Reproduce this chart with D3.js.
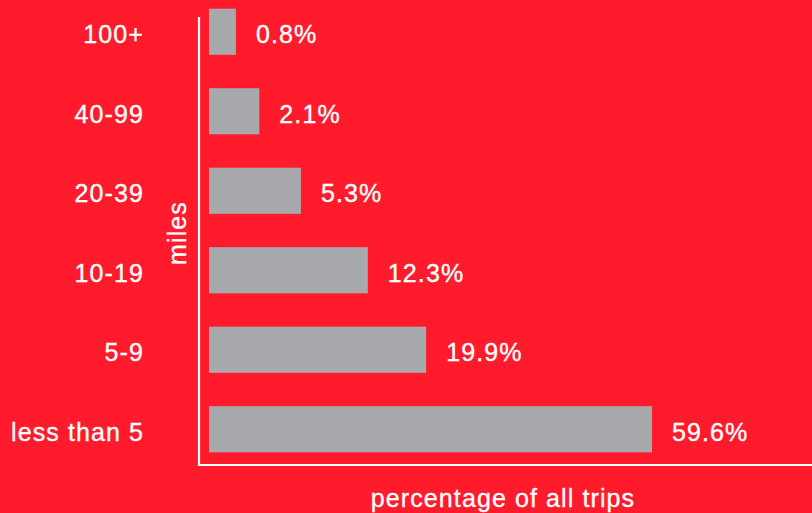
<!DOCTYPE html>
<html>
<head>
<meta charset="utf-8">
<script src="https://cdn.jsdelivr.net/npm/d3@7"></script>
<style>
  html, body { margin: 0; padding: 0; background: #FF1A2C; overflow: hidden; }
  svg text {
    font-family: "Liberation Sans", Arial, Helvetica, sans-serif;
    fill: #fff;
    stroke: #fff;
    stroke-width: 0.35px;
    letter-spacing: 1.1px;
  }
</style>
</head>
<body>
<div id="chart"></div>
<script>
const categories = ["100+", "40-99", "20-39", "10-19", "5-9", "less than 5"];
const shares = [0.8, 2.1, 5.3, 12.3, 19.9, 59.6];
const valueLabels = ["0.8%", "2.1%", "5.3%", "12.3%", "19.9%", "59.6%"];
const yTitle = "miles";
const xTitle = "percentage of all trips";

const width = 812,
  height = 513,
  barLeft = 209,
  fontSize = 25,
  svg = d3
    .select("#chart")
    .append("svg")
    .attr("width", width)
    .attr("height", height);

// bars in the original are not to scale, a compressed pow scale comes close
const xScale = d3.scalePow().exponent(0.65).domain([0, 59.6]).range([0, 443]);
const yScale = d3
  .scaleBand()
  .domain(categories)
  .range([-8, 469])
  .paddingInner(0.42)
  .paddingOuter(0.21);

svg
  .append("g")
  .selectAll("rect")
  .data(shares)
  .join("rect")
  .attr("x", barLeft)
  .attr("y", (d, i) => yScale(categories[i]))
  .attr("width", (d) => xScale(d))
  .attr("height", yScale.bandwidth())
  .attr("fill", "#A7A9AC");

// axis lines
svg
  .append("path")
  .attr("d", "M199,17V465H812")
  .attr("fill", "none")
  .attr("stroke", "#fff")
  .attr("stroke-width", 2.2);

svg
  .append("g")
  .selectAll("text")
  .data(categories)
  .join("text")
  .attr("x", 144)
  .attr("y", (d) => yScale(d) + yScale.bandwidth() / 2)
  .attr("dy", "0.46em")
  .attr("text-anchor", "end")
  .attr("font-size", fontSize)
  .text((d) => d);

svg
  .append("g")
  .selectAll("text")
  .data(shares)
  .join("text")
  .attr("x", (d) => barLeft + xScale(d) + 20)
  .attr("y", (d, i) => yScale(categories[i]) + yScale.bandwidth() / 2)
  .attr("dy", "0.46em")
  .attr("font-size", fontSize)
  .text((d, i) => valueLabels[i]);

svg
  .append("text")
  .attr("transform", "translate(186,233) rotate(-90)")
  .attr("text-anchor", "middle")
  .attr("font-size", fontSize)
  .text(yTitle);

svg
  .append("text")
  .attr("x", 503)
  .attr("y", 507)
  .attr("text-anchor", "middle")
  .attr("font-size", fontSize)
  .text(xTitle);
</script>
</body>
</html>
